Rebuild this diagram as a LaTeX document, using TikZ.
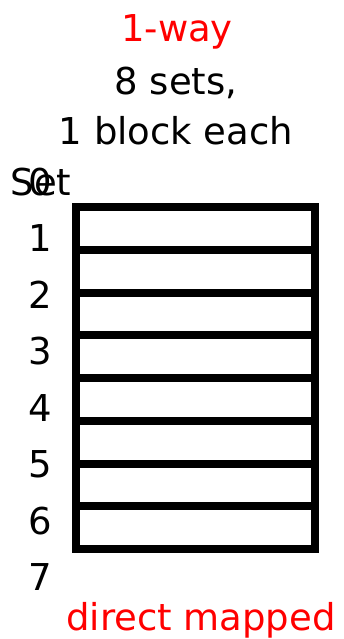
\documentclass[tikz,border=0pt]{standalone}
\usepackage{fontspec}
\setmainfont{DejaVu Sans}
\begin{document}
\begin{tikzpicture}[
                x=1pt, y=-1pt,
                lbl/.style={anchor=base, font=\fontsize{37}{40}\selectfont, inner sep=0pt},
                hd/.style={lbl, text=red},
                row/.style={draw, line width=8pt, minimum width=239pt, minimum height=42.75pt, inner sep=0pt}
            ]
            \useasboundingbox (0,0) rectangle (343,639);
            \node[hd]  (way)   at (177, 42)  {1-way};
            \node[lbl] (sets)  at (176, 95)  {8 sets,};
            \node[lbl] (each)  at (176, 145) {1 block each};
            \node[lbl] (set)   at (41, 195)  {Set};
            \foreach \i in {0,...,7} {
                \node[row] (r\i) at (195.5, {228.4+42.75*\i}) {};
                \node[lbl] (n\i) at (40, {195+56.5*\i}) {\i};
            }
            \node[hd]  (dm)    at (201, 630) {direct mapped};
            \end{tikzpicture}
\end{document}
